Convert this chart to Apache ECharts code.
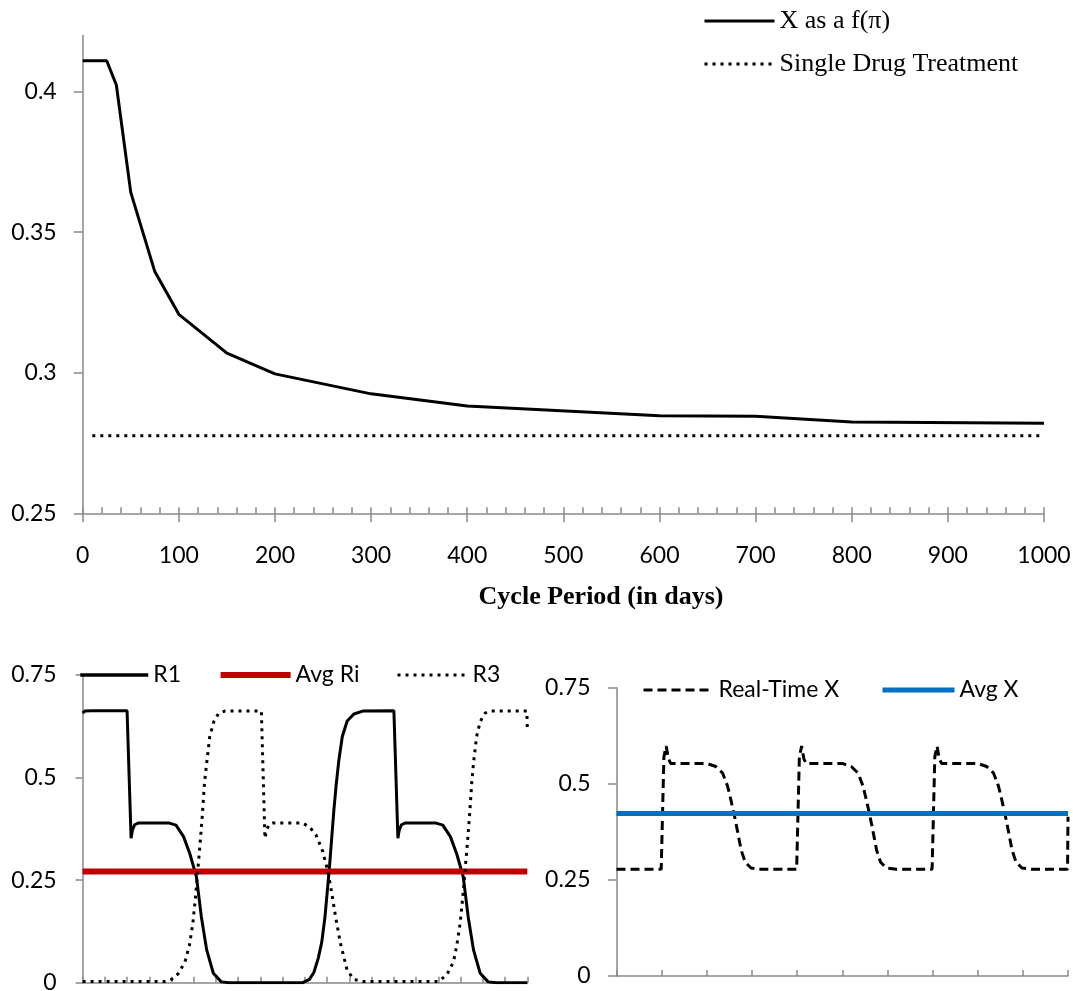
<!DOCTYPE html>
<html><head><meta charset="utf-8">
<script src="https://cdn.jsdelivr.net/npm/echarts@6/dist/echarts.min.js"></script>
<style>html,body{margin:0;padding:0;background:#fff}#c{width:1073px;height:991px}</style>
</head><body><div id="c"></div>
<script>
// ---------- Top chart data ----------
const cycleDays = [0, 25, 35, 50, 75, 100, 150, 200, 300, 400, 600, 700, 800, 1000];
const xAsFPi    = [0.411, 0.411, 0.4024, 0.3642, 0.336, 0.3208, 0.307, 0.2996, 0.2925, 0.2882, 0.2847, 0.2845, 0.2825, 0.282];
const singleDrugDays = [10, 1000];
const singleDrugX    = [0.2776, 0.2776];
const topYTicks = [0.25, 0.3, 0.35, 0.4];

// ---------- Bottom-left data (time in arbitrary units) ----------
const r1Time = [0, 0.05, 0.2, 1.0, 1.09, 1.12, 1.17, 1.25, 1.95, 2.1, 2.27, 2.41, 2.56, 2.67, 2.79, 2.94, 3.12, 3.3, 4.95,
  5.1, 5.2, 5.3, 5.38, 5.45, 5.5, 5.55, 5.6, 5.65, 5.7, 5.76, 5.84, 5.95, 6.1, 6.3, 7.0, 7.09, 7.12, 7.17, 7.25, 7.95,
  8.1, 8.27, 8.41, 8.56, 8.67, 8.79, 8.94, 9.12, 9.3, 10];
const r1Values = [0.657, 0.662, 0.663, 0.663, 0.352, 0.372, 0.385, 0.389, 0.389, 0.384, 0.356, 0.315, 0.258, 0.161, 0.08, 0.023, 0.002, 0, 0,
  0.008, 0.025, 0.06, 0.1, 0.16, 0.22, 0.28, 0.35, 0.42, 0.48, 0.54, 0.6, 0.638, 0.655, 0.662, 0.663, 0.352, 0.372, 0.385, 0.389, 0.389,
  0.384, 0.356, 0.315, 0.258, 0.161, 0.08, 0.023, 0.002, 0, 0];
const r3Time = [0, 1.85, 2.0, 2.15, 2.3, 2.4, 2.48, 2.54, 2.59, 2.63, 2.69, 2.74, 2.79, 2.86, 2.95, 3.06, 3.2, 4.02, 4.1, 4.14, 4.19, 4.27, 4.95,
  5.1, 5.25, 5.4, 5.52, 5.6, 5.69, 5.8, 5.95, 6.1, 6.3, 8.0, 8.19, 8.34, 8.41, 8.49, 8.55, 8.6, 8.64, 8.7, 8.75, 8.79, 8.86, 8.94, 9.05, 9.16, 9.99, 10];
const r3Values = [0.003, 0.003, 0.008, 0.022, 0.05, 0.09, 0.145, 0.21, 0.275, 0.323, 0.405, 0.486, 0.535, 0.6, 0.636, 0.657, 0.662, 0.662, 0.352, 0.372, 0.385, 0.389, 0.389,
  0.38, 0.36, 0.32, 0.27, 0.22, 0.16, 0.095, 0.03, 0.008, 0.003, 0.003, 0.019, 0.051, 0.088, 0.145, 0.21, 0.275, 0.323, 0.405, 0.486, 0.535, 0.6, 0.636, 0.657, 0.662, 0.662, 0.62];
const avgRiTime = [0, 10];
const avgRiValues = [0.271, 0.271];

// ---------- Bottom-right data ----------
const realXTime = [0, 0.99, 1.05, 1.1, 1.15, 1.2, 2.0, 2.2, 2.35, 2.46, 2.54, 2.61, 2.68, 2.76, 2.85, 2.98, 3.2,
  3.99, 4.05, 4.1, 4.15, 4.2, 5.0, 5.2, 5.35, 5.46, 5.54, 5.61, 5.68, 5.76, 5.85, 5.98, 6.2,
  6.99, 7.05, 7.1, 7.15, 7.2, 8.0, 8.2, 8.35, 8.46, 8.54, 8.61, 8.68, 8.76, 8.85, 8.98, 9.2, 9.99, 10];
const realXValues = [0.2776, 0.2776, 0.57, 0.598, 0.565, 0.553, 0.553, 0.545, 0.528, 0.494, 0.455, 0.418, 0.377, 0.328, 0.296, 0.281, 0.2776,
  0.2776, 0.57, 0.598, 0.565, 0.553, 0.553, 0.545, 0.528, 0.494, 0.455, 0.418, 0.377, 0.328, 0.296, 0.281, 0.2776,
  0.2776, 0.57, 0.598, 0.565, 0.553, 0.553, 0.545, 0.528, 0.494, 0.455, 0.418, 0.377, 0.328, 0.296, 0.281, 0.2776, 0.2776, 0.414];
const avgXTime = [0, 10];
const avgXValues = [0.423, 0.423];

const zip = (a, b) => a.map((v, i) => [v, b[i]]);

const AXIS_COLOR = '#898989';
const labelFont = { fontFamily: 'Lato', fontSize: 23, color: '#000' };
const axisLine = { show: true, onZero: false, lineStyle: { color: AXIS_COLOR, width: 1.5 } };
const tickStyle = { color: AXIS_COLOR, width: 1.5 };

function legendFor(names, left, top, itemWidth, lineWidth, textStyle, extra) {
  return Object.assign({
    data: names, left: left, top: top, padding: 0, itemWidth: itemWidth, itemHeight: 14,
    selectedMode: false, textStyle: textStyle,
    itemStyle: { opacity: 0 }, lineStyle: { width: lineWidth }
  }, extra || {});
}

const chart = echarts.init(document.getElementById('c'), null, { renderer: 'canvas' });
chart.setOption({
  animation: false,
  backgroundColor: '#fff',
  grid: [
    { left: 82.7, top: 35.5, width: 961.3, height: 477.8, outerBoundsMode: 'none' },
    { left: 82.6, top: 675, width: 444.7, height: 307.7, outerBoundsMode: 'none' },
    { left: 616.5, top: 687.7, width: 451.5, height: 288.3, outerBoundsMode: 'none' }
  ],
  xAxis: [
    { type: 'value', gridIndex: 0, position: 'bottom', min: 0, max: 1000, interval: 100,
      axisLine: axisLine, axisTick: { show: true, length: 9, lineStyle: tickStyle },
      axisLabel: Object.assign({ margin: 31, formatter: v => String(v) }, labelFont), splitLine: { show: false } },
    { type: 'value', gridIndex: 0, position: 'bottom', min: 0, max: 1000, interval: 20,
      axisLine: { show: false }, axisTick: { show: true, inside: true, length: 6, lineStyle: tickStyle },
      axisLabel: { show: false }, splitLine: { show: false } },
    { type: 'value', gridIndex: 1, position: 'bottom', min: 0, max: 10, interval: 0.5,
      axisLine: axisLine, axisTick: { show: true, inside: true, length: 6, lineStyle: tickStyle },
      axisLabel: { show: false }, splitLine: { show: false } },
    { type: 'value', gridIndex: 2, position: 'bottom', min: 0, max: 10, interval: 1,
      axisLine: axisLine, axisTick: { show: true, inside: true, length: 6, lineStyle: tickStyle },
      axisLabel: { show: false }, splitLine: { show: false } }
  ],
  yAxis: [
    { type: 'value', gridIndex: 0, min: 0.25, max: 0.42,
      axisLine: axisLine, axisTick: { show: true, length: 9, lineStyle: tickStyle, customValues: topYTicks },
      axisLabel: Object.assign({ margin: 26, customValues: topYTicks }, labelFont), splitLine: { show: false } },
    { type: 'value', gridIndex: 1, min: 0, max: 0.75, interval: 0.25,
      axisLine: axisLine, axisTick: { show: true, length: 7, lineStyle: tickStyle },
      axisLabel: Object.assign({ margin: 26 }, labelFont), splitLine: { show: false } },
    { type: 'value', gridIndex: 2, min: 0, max: 0.75, interval: 0.25,
      axisLine: axisLine, axisTick: { show: true, length: 8.5, lineStyle: tickStyle },
      axisLabel: Object.assign({ margin: 26 }, labelFont), splitLine: { show: false } }
  ],
  legend: [
    legendFor(['X as a f(π)', 'Single Drug Treatment'], 703, 8, 70, 3,
      { fontFamily: 'Liberation Serif', fontSize: 26, color: '#000' }, { orient: 'vertical', itemGap: 17 }),
    legendFor(['R1'], 78.5, 663.5, 68, 3.5, labelFont),
    legendFor(['Avg Ri'], 217.6, 663.5, 70, 6, labelFont),
    legendFor(['R3'], 396, 663.5, 70, 3, labelFont),
    legendFor(['Real-Time X'], 642, 678.5, 70, 3, labelFont),
    legendFor(['Avg X'], 880, 678.5, 72, 5, labelFont)
  ],
  graphic: [
    { type: 'text', x: 601, y: 597, silent: true,
      style: { text: 'Cycle Period (in days)', font: 'bold 26px "Liberation Serif"', fill: '#000', align: 'center', verticalAlign: 'middle' } }
  ],
  series: [
    { name: 'X as a f(π)', type: 'line', xAxisIndex: 0, yAxisIndex: 0, symbol: 'none', silent: true,
      data: zip(cycleDays, xAsFPi), itemStyle: { color: '#000' }, lineStyle: { color: '#000', width: 3 } },
    { name: 'Single Drug Treatment', type: 'line', xAxisIndex: 0, yAxisIndex: 0, symbol: 'none', silent: true,
      data: zip(singleDrugDays, singleDrugX), itemStyle: { color: '#000' }, lineStyle: { color: '#000', width: 3, type: [3, 5] } },
    { name: 'R1', type: 'line', xAxisIndex: 2, yAxisIndex: 1, symbol: 'none', silent: true,
      data: zip(r1Time, r1Values), itemStyle: { color: '#000' }, lineStyle: { color: '#000', width: 3 } },
    { name: 'Avg Ri', type: 'line', xAxisIndex: 2, yAxisIndex: 1, symbol: 'none', silent: true,
      data: zip(avgRiTime, avgRiValues), itemStyle: { color: '#C00000' }, lineStyle: { color: '#C00000', width: 6 } },
    { name: 'R3', type: 'line', xAxisIndex: 2, yAxisIndex: 1, symbol: 'none', silent: true,
      data: zip(r3Time, r3Values), itemStyle: { color: '#000' }, lineStyle: { color: '#000', width: 3, type: [3, 5] } },
    { name: 'Real-Time X', type: 'line', xAxisIndex: 3, yAxisIndex: 2, symbol: 'none', silent: true,
      data: zip(realXTime, realXValues), itemStyle: { color: '#000' }, lineStyle: { color: '#000', width: 3, type: [9, 5] } },
    { name: 'Avg X', type: 'line', xAxisIndex: 3, yAxisIndex: 2, symbol: 'none', silent: true,
      data: zip(avgXTime, avgXValues), itemStyle: { color: '#0070C0' }, lineStyle: { color: '#0070C0', width: 5 } }
  ]
});
</script>
</body></html>
